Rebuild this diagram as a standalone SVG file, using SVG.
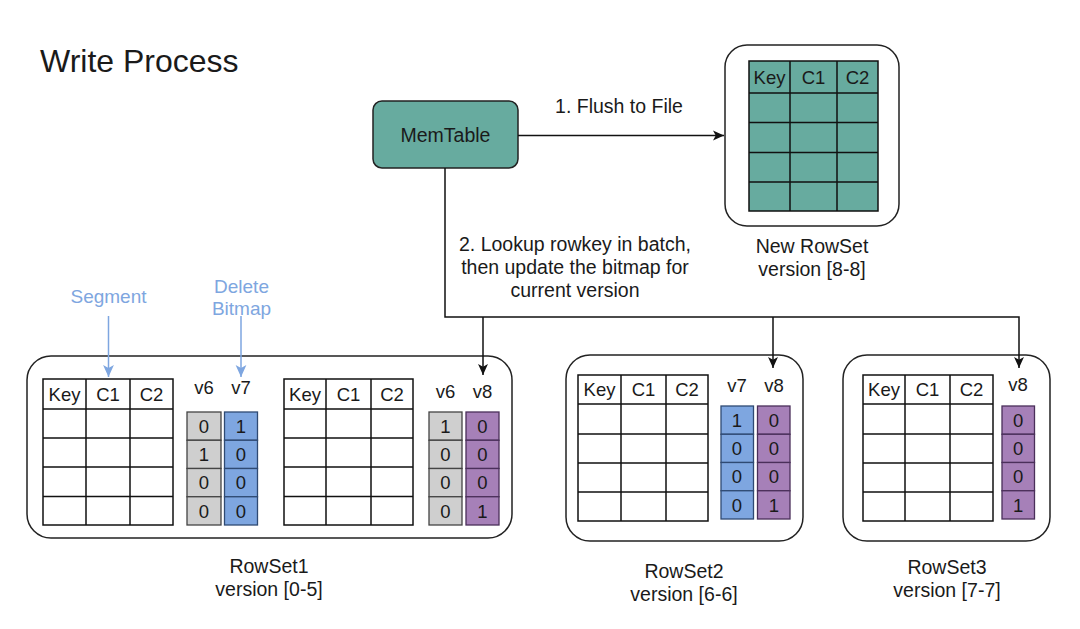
<svg xmlns="http://www.w3.org/2000/svg" width="1080" height="629" viewBox="0 0 1080 629">
<style>
  text { font-family: "Liberation Sans", Arial, Helvetica, sans-serif; fill: #1a1a1a; }
  .t { font-size: 18.5px; text-anchor: middle; }
  .lbl { font-size: 19.5px; text-anchor: middle; }
  .blue { fill: #7EA6E0; font-size: 19px; text-anchor: middle; }
  .box { fill: #ffffff; stroke: #222; stroke-width: 1.5; }
  .tbl { fill: #ffffff; stroke: #111; stroke-width: 1.5; }
  .teal { fill: #67AB9F; stroke: #111; stroke-width: 1.5; }
  .ln { stroke: #111; stroke-width: 1.5; fill: none; }
  .g { fill: #CFCFCF; stroke: #444; stroke-width: 1.3; }
  .b { fill: #7EA6E0; stroke: #2F4A73; stroke-width: 1.3; }
  .p { fill: #A680B8; stroke: #4A2F5A; stroke-width: 1.3; }
  .conn { stroke: #111; stroke-width: 1.5; fill: none; }
  .aconn { stroke: #7EA6E0; stroke-width: 1.5; fill: none; }
</style>
<defs>
  <marker id="arr" viewBox="0 0 10 10" refX="10" refY="5" markerWidth="11" markerHeight="11" markerUnits="userSpaceOnUse" orient="auto">
    <path d="M0,0.5 L10,5 L0,9.5 L2.5,5 z" fill="#111"/>
  </marker>
  <marker id="arrb" viewBox="0 0 10 10" refX="10" refY="5" markerWidth="12" markerHeight="12" markerUnits="userSpaceOnUse" orient="auto">
    <path d="M0,0.5 L10,5 L0,9.5 L2.5,5 z" fill="#7EA6E0"/>
  </marker>
</defs>
<rect width="1080" height="629" fill="#ffffff"/>

<text x="40" y="72" style="font-size:32px">Write Process</text>

<g id="segment-label">
  <text class="blue" x="108.5" y="303">Segment</text>
</g>
<g id="delete-bitmap-label">
  <text class="blue" x="241.5" y="293">Delete</text>
  <text class="blue" x="241.5" y="315">Bitmap</text>
</g>

<g id="memtable">
  <rect x="373" y="101" width="145" height="67" rx="9" fill="#67AB9F" stroke="#222" stroke-width="1.5"/>
  <text class="lbl" x="445.5" y="142">MemTable</text>
</g>

<g id="new-rowset">
  <rect class="box" x="725" y="45" width="174" height="181" rx="22"/>
  <rect class="teal" x="749" y="61" width="129" height="150"/>
  <path class="ln" d="M790,61 V211 M837,61 V211 M749,93 H878 M749,122.5 H878 M749,152.5 H878 M749,182 H878"/>
  <text class="t" x="769.5" y="84">Key</text>
  <text class="t" x="813.5" y="84">C1</text>
  <text class="t" x="857.5" y="84">C2</text>
  <text class="lbl" x="812" y="253">New RowSet</text>
  <text class="lbl" x="812" y="276">version [8-8]</text>
</g>

<g id="rowset1">
  <rect class="box" x="27" y="356" width="485" height="182" rx="24"/>
  <rect class="tbl" x="43" y="379" width="130" height="146"/>
  <path class="ln" d="M86,379 V525 M130,379 V525 M43,409 H173 M43,438 H173 M43,467 H173 M43,496.5 H173"/>
  <text class="t" x="64.5" y="401">Key</text>
  <text class="t" x="108" y="401">C1</text>
  <text class="t" x="151.5" y="401">C2</text>
  <text class="t" x="204" y="394">v6</text>
  <text class="t" x="241" y="394">v7</text>
  <rect class="g" x="187" y="412" width="34" height="28.25"/>
  <rect class="g" x="187" y="440.25" width="34" height="28.25"/>
  <rect class="g" x="187" y="468.5" width="34" height="28.25"/>
  <rect class="g" x="187" y="496.75" width="34" height="28.25"/>
  <rect class="b" x="224.5" y="412" width="33" height="28.25"/>
  <rect class="b" x="224.5" y="440.25" width="33" height="28.25"/>
  <rect class="b" x="224.5" y="468.5" width="33" height="28.25"/>
  <rect class="b" x="224.5" y="496.75" width="33" height="28.25"/>
  <text class="t" x="204" y="433">0</text>
  <text class="t" x="204" y="461">1</text>
  <text class="t" x="204" y="489">0</text>
  <text class="t" x="204" y="518">0</text>
  <text class="t" x="241" y="433">1</text>
  <text class="t" x="241" y="461">0</text>
  <text class="t" x="241" y="489">0</text>
  <text class="t" x="241" y="518">0</text>
  <rect class="tbl" x="284" y="379" width="129" height="146"/>
  <path class="ln" d="M326,379 V525 M371,379 V525 M284,409 H413 M284,438 H413 M284,467 H413 M284,496.5 H413"/>
  <text class="t" x="305" y="401">Key</text>
  <text class="t" x="348.5" y="401">C1</text>
  <text class="t" x="392" y="401">C2</text>
  <text class="t" x="445.5" y="398">v6</text>
  <text class="t" x="482.5" y="398">v8</text>
  <rect class="g" x="429" y="412" width="33" height="28.25"/>
  <rect class="g" x="429" y="440.25" width="33" height="28.25"/>
  <rect class="g" x="429" y="468.5" width="33" height="28.25"/>
  <rect class="g" x="429" y="496.75" width="33" height="28.25"/>
  <rect class="p" x="466" y="412" width="33" height="28.25"/>
  <rect class="p" x="466" y="440.25" width="33" height="28.25"/>
  <rect class="p" x="466" y="468.5" width="33" height="28.25"/>
  <rect class="p" x="466" y="496.75" width="33" height="28.25"/>
  <text class="t" x="445.5" y="433">1</text>
  <text class="t" x="445.5" y="461">0</text>
  <text class="t" x="445.5" y="489">0</text>
  <text class="t" x="445.5" y="518">0</text>
  <text class="t" x="482.5" y="433">0</text>
  <text class="t" x="482.5" y="461">0</text>
  <text class="t" x="482.5" y="489">0</text>
  <text class="t" x="482.5" y="518">1</text>
  <text class="lbl" x="269" y="573">RowSet1</text>
  <text class="lbl" x="269" y="596">version [0-5]</text>
</g>

<g id="rowset2">
  <rect class="box" x="566" y="355" width="237" height="186" rx="24"/>
  <rect class="tbl" x="578" y="375" width="130" height="146"/>
  <path class="ln" d="M621,375 V521 M666,375 V521 M578,404 H708 M578,434 H708 M578,463 H708 M578,492 H708"/>
  <text class="t" x="599.5" y="396">Key</text>
  <text class="t" x="643.5" y="396">C1</text>
  <text class="t" x="687" y="396">C2</text>
  <text class="t" x="737" y="392">v7</text>
  <text class="t" x="774" y="392">v8</text>
  <rect class="b" x="721" y="406" width="32.5" height="28.25"/>
  <rect class="b" x="721" y="434.25" width="32.5" height="28.25"/>
  <rect class="b" x="721" y="462.5" width="32.5" height="28.25"/>
  <rect class="b" x="721" y="490.75" width="32.5" height="28.25"/>
  <rect class="p" x="757.5" y="406" width="32.5" height="28.25"/>
  <rect class="p" x="757.5" y="434.25" width="32.5" height="28.25"/>
  <rect class="p" x="757.5" y="462.5" width="32.5" height="28.25"/>
  <rect class="p" x="757.5" y="490.75" width="32.5" height="28.25"/>
  <text class="t" x="737" y="427">1</text>
  <text class="t" x="737" y="455">0</text>
  <text class="t" x="737" y="483">0</text>
  <text class="t" x="737" y="512">0</text>
  <text class="t" x="774" y="427">0</text>
  <text class="t" x="774" y="455">0</text>
  <text class="t" x="774" y="483">0</text>
  <text class="t" x="774" y="512">1</text>
  <text class="lbl" x="684" y="578">RowSet2</text>
  <text class="lbl" x="684" y="601">version [6-6]</text>
</g>

<g id="rowset3">
  <rect class="box" x="843" y="355" width="207" height="186" rx="24"/>
  <rect class="tbl" x="863" y="375" width="130" height="146"/>
  <path class="ln" d="M905,375 V521 M950,375 V521 M863,404 H993 M863,434 H993 M863,463 H993 M863,492 H993"/>
  <text class="t" x="884" y="396">Key</text>
  <text class="t" x="927.5" y="396">C1</text>
  <text class="t" x="971.5" y="396">C2</text>
  <text class="t" x="1018" y="391">v8</text>
  <rect class="p" x="1002" y="406" width="32.5" height="28.25"/>
  <rect class="p" x="1002" y="434.25" width="32.5" height="28.25"/>
  <rect class="p" x="1002" y="462.5" width="32.5" height="28.25"/>
  <rect class="p" x="1002" y="490.75" width="32.5" height="28.25"/>
  <text class="t" x="1018.25" y="427">0</text>
  <text class="t" x="1018.25" y="455">0</text>
  <text class="t" x="1018.25" y="483">0</text>
  <text class="t" x="1018.25" y="512">1</text>
  <text class="lbl" x="947" y="574">RowSet3</text>
  <text class="lbl" x="947" y="597">version [7-7]</text>
</g>

<g id="connectors">
  <path class="conn" d="M518,135.5 H724" marker-end="url(#arr)"/>
  <path class="conn" d="M445,168 V317 H1019 V368" marker-end="url(#arr)"/>
  <path class="conn" d="M483,317 V375" marker-end="url(#arr)"/>
  <path class="conn" d="M773,317 V368" marker-end="url(#arr)"/>
  <path class="aconn" d="M108.5,316 V377" marker-end="url(#arrb)"/>
  <path class="aconn" d="M241,316 V377" marker-end="url(#arrb)"/>
  <text class="lbl" x="619" y="113">1. Flush to File</text>
  <text class="lbl" x="575" y="251">2. Lookup rowkey in batch,</text>
  <text class="lbl" x="575" y="274">then update the bitmap for</text>
  <text class="lbl" x="575" y="297">current version</text>
</g>
</svg>
